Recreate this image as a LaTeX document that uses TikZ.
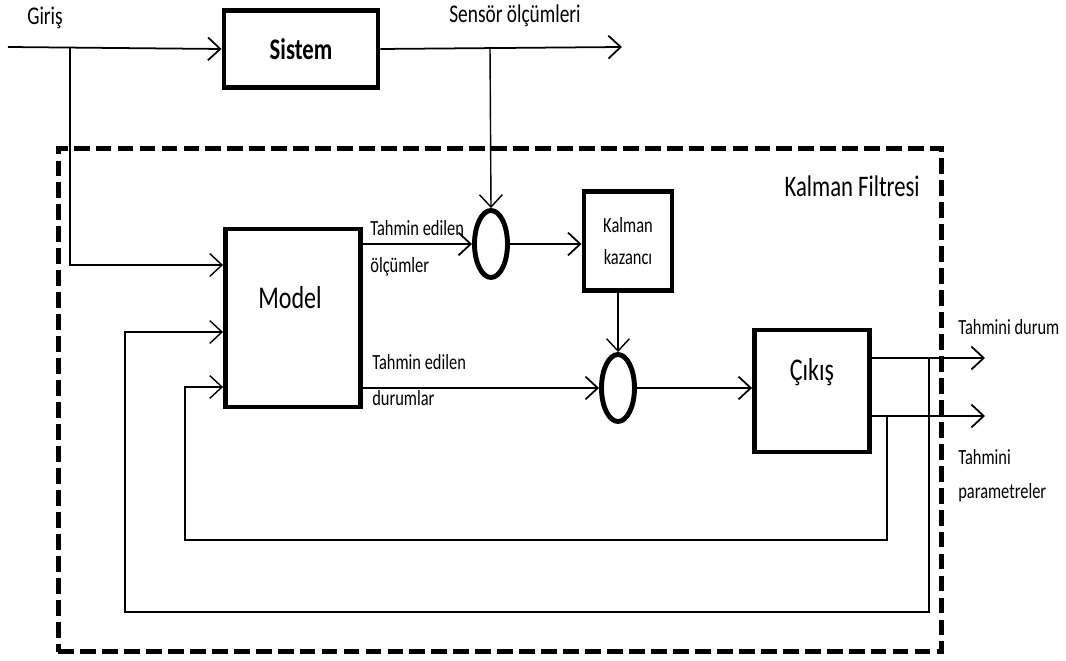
\documentclass[tikz,border=0pt]{standalone}
\usepackage{fontspec}
\setmainfont[FakeStretch=0.76]{Carlito}
\usetikzlibrary{arrows.meta,shapes.geometric}
\tikzset{blok/.style={draw, line width=2.8pt, inner sep=0pt},
  toplayici/.style={draw, ellipse, line width=2.8pt, minimum width=0.66cm, minimum height=1.34cm, inner sep=0pt},
  sinyal/.style={line width=1pt, ->},
  geri/.style={line width=0.8pt, ->},
  etiket/.style={inner sep=0pt, font=\fontsize{12.3}{14}\selectfont},
  buyuk/.style={inner sep=0pt, font=\fontsize{18}{21}\selectfont}}

\begin{document}
\begin{tikzpicture}[x=0.02cm, y=-0.02cm, >={Straight Barb[length=7pt,width=13pt]}]
\useasboundingbox (0,0) rectangle (1066,661);
% Kalman filtresi cercevesi
\node[draw, line width=2.8pt, dash pattern=on 9pt off 3.5pt, minimum width=17.68cm, minimum height=10.08cm] (kf) at (500,400) {};
\node[inner sep=0pt, font=\fontsize{17}{20}\selectfont, anchor=east] (kflbl) at (920,186) {Kalman Filtresi};

% bloklar
\node[blok, minimum width=3.08cm, minimum height=1.54cm, font=\fontsize{17}{20}\selectfont\bfseries] (sistem) at (301,49) {Sistem};
\node[blok, minimum width=2.7cm, minimum height=3.56cm] (model) at (293,318) {};
\node[buyuk] (modellbl) at (290,298) {Model};
\node[blok, minimum width=1.76cm, minimum height=1.98cm, align=center, font=\fontsize{12.3}{18.5}\selectfont] (kazanc) at (628,241) {Kalman\\kazancı};
\node[blok, minimum width=2.3cm, minimum height=2.44cm] (cikis) at (812,391) {};
\node[buyuk] (cikislbl) at (812,372) {Çıkış};
\node[toplayici] (top1) at (491,244) {};
\node[toplayici] (top2) at (618,388) {};

% etiketler
\node[etiket, font=\fontsize{14.5}{17}\selectfont] (giris) at (45,18) {Giriş};
\node[etiket, font=\fontsize{14.5}{17}\selectfont] (sensor) at (515,16) {Sensör ölçümleri};
\node[etiket, anchor=west] (tel1) at (370,228) {Tahmin edilen};
\node[etiket, anchor=west] (tel2) at (370,267) {ölçümler};
\node[etiket, anchor=west] (ted1) at (372,362) {Tahmin edilen};
\node[etiket, anchor=west] (ted2) at (372,398) {durumlar};
\node[etiket, anchor=west] (tdurum) at (958,327) {Tahmini durum};
\node[etiket, anchor=west] (tpar1) at (958,457) {Tahmini};
\node[etiket, anchor=west] (tpar2) at (958,493) {parametreler};

% baglanti noktalari
\coordinate (gin) at (8,47);
\coordinate (gj) at (70,47);
\coordinate (sj) at (490,47);
\coordinate (sout) at (622,47);
\coordinate (dj) at (929,358);
\coordinate (pj) at (887,416);
\coordinate (dout) at (985,358);
\coordinate (pout) at (985,416);

% sinyaller
\draw[sinyal] (gin) -- (sistem.west);
\draw[sinyal] (sistem.east) -- (sout);
\draw[geri] (gj) |- (model.west |- 0,265);
\draw[geri] (sj) -- (top1.north);
\draw[sinyal] (model.east |- top1.west) -- (top1.west);
\draw[sinyal] (top1.east) -- (kazanc.west |- top1.east);
\draw[geri] (kazanc.south -| top2.north) -- (top2.north);
\draw[sinyal] (model.east |- top2.west) -- (top2.west);
\draw[sinyal] (top2.east) -- (cikis.west |- top2.east);
\draw[sinyal] (cikis.east |- dj) -- (dout);
\draw[sinyal] (cikis.east |- pj) -- (pout);
% geri beslemeler
\draw[geri] (dj) -- (929,612) -- (125,612) |- (model.west |- 0,332);
\draw[geri] (pj) -- (887,540) -- (185,540) |- (model.west |- 0,387);
\end{tikzpicture}
\end{document}
